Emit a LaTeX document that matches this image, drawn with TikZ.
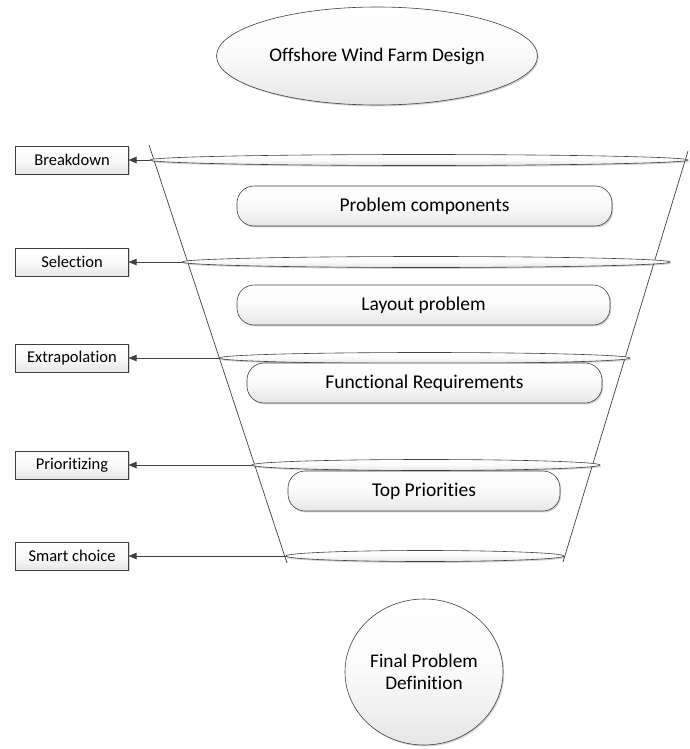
\documentclass[tikz,border=0pt]{standalone}
\usepackage{fontspec}
\setmainfont[Ligatures={NoCommon,NoRare,NoContextual}]{Carlito}
\usetikzlibrary{shapes.geometric,shadows,arrows.meta}

\definecolor{linegray}{HTML}{404040}
\definecolor{fillgray}{HTML}{E6E6E6}

\begin{document}
\begin{tikzpicture}[x=1pt,y=-1pt,
  every node/.style={inner sep=0pt, outer sep=0pt, text=black},
  soft/.style={draw=linegray, line width=0.6pt, top color=white, bottom color=fillgray,
    middle color=white!80!fillgray,
    drop shadow={shadow xshift=1.2pt, shadow yshift=-1.4pt, opacity=0.18, fill=black}},
  goalshape/.style={soft, ellipse, font=\fontsize{19.3}{22}\selectfont},
  lens/.style={soft, ellipse, minimum height=11pt},
  tagbox/.style={soft, rectangle, minimum width=113pt, minimum height=28pt,
    font=\fontsize{16.5}{19}\selectfont},
  stagebox/.style={soft, rectangle, rounded corners=17pt, minimum height=40pt,
    font=\fontsize{19.5}{23}\selectfont},
  funnel/.style={draw=linegray, line width=0.7pt},
  conn/.style={draw=linegray, line width=0.8pt, -{Triangle[length=8pt,width=6.5pt]}}
]
\useasboundingbox (0,0) rectangle (689,749);

% funnel sides
\coordinate (ftl) at (149,145);
\coordinate (fbl) at (287,563);
\coordinate (ftr) at (688,151);
\coordinate (fbr) at (563,562);
\draw[funnel] (ftl) -- (fbl);
\draw[funnel] (ftr) -- (fbr);

% title and result
\node[goalshape, minimum width=321pt, minimum height=98pt] (goal) at (377,56) {Offshore Wind Farm Design};
\node[goalshape, minimum width=158pt, minimum height=146pt, align=center] (final) at (424,672)
  {Final Problem\\Definition};

% cross sections of the funnel
\node[lens, minimum width=538pt] (l1) at (419,160) {};
\node[lens, minimum width=488pt] (l2) at (426,262) {};
\node[lens, minimum width=411pt] (l3) at (424.5,358) {};
\node[lens, minimum width=348pt] (l4) at (426,465) {};
\node[lens, minimum width=278pt] (l5) at (425,556) {};

% stages inside the funnel
\node[stagebox, minimum width=375pt] (s1) at (424.5,206) {Problem components};
\node[stagebox, minimum width=373pt] (s2) at (423.5,305) {Layout problem};
\node[stagebox, minimum width=355pt] (s3) at (424.5,383) {Functional Requirements};
\node[stagebox, minimum width=272pt] (s4) at (424,491) {Top Priorities};

% operations on the left
\node[tagbox] (t1) at (72,160) {Breakdown};
\node[tagbox] (t2) at (72,262) {Selection};
\node[tagbox] (t3) at (72,358) {Extrapolation};
\node[tagbox] (t4) at (72,465) {Prioritizing};
\node[tagbox] (t5) at (72,556) {Smart choice};

\draw[conn] (l1.west) -- (t1.east);
\draw[conn] (l2.west) -- (t2.east);
\draw[conn] (l3.west) -- (t3.east);
\draw[conn] (l4.west) -- (t4.east);
\draw[conn] (l5.west) -- (t5.east);
\end{tikzpicture}
\end{document}
